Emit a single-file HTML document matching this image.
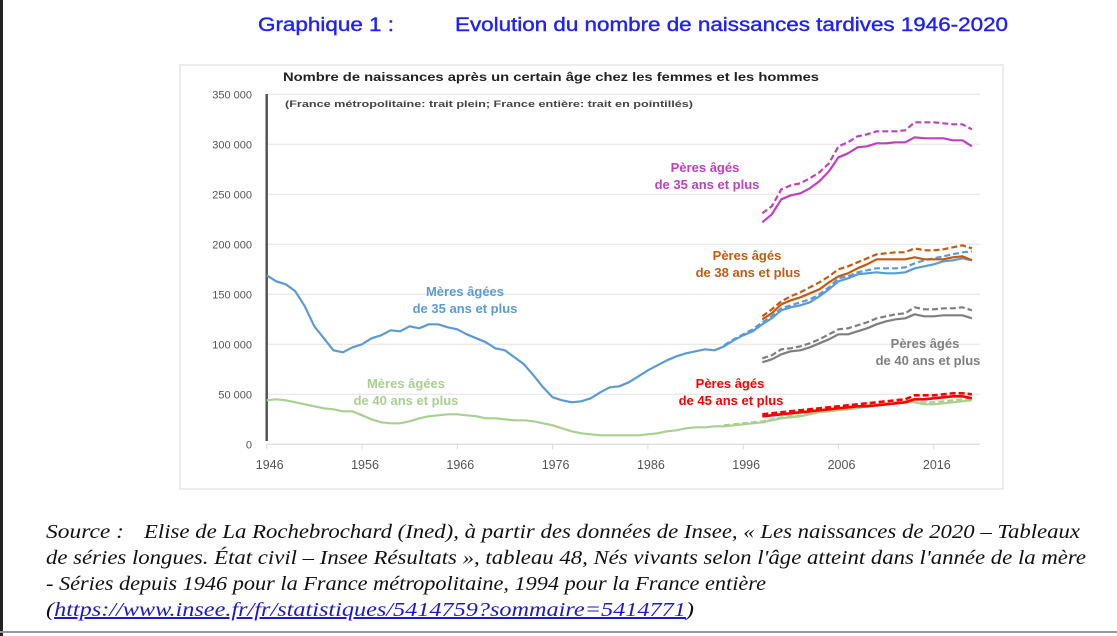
<!DOCTYPE html>
<html><head><meta charset="utf-8"><style>
html,body{margin:0;padding:0;background:#fff;width:1117px;height:636px;overflow:hidden}
svg{display:block}
</style></head><body>
<svg id="chart" width="1117" height="636" viewBox="0 0 1117 636" xmlns="http://www.w3.org/2000/svg">
<rect x="0" y="0" width="3" height="636" fill="#222"/>
<rect x="0" y="631" width="1117" height="2" fill="#999"/>
<g font-family="Liberation Sans, sans-serif" fill="#1f1fff" font-size="19" stroke="#1f1fff" stroke-width="0.4">
<text x="258" y="31" textLength="136" lengthAdjust="spacingAndGlyphs">Graphique 1 :</text>
<text x="455" y="31" textLength="553" lengthAdjust="spacingAndGlyphs">Evolution du nombre de naissances tardives 1946-2020</text>
</g>
<rect x="180" y="65" width="823" height="424" fill="#fff" stroke="#e6e6e6" stroke-width="1.5"/>
<text x="283" y="81" font-family="Liberation Sans, sans-serif" font-weight="bold" font-size="12" fill="#222" textLength="536" lengthAdjust="spacingAndGlyphs">Nombre de naissances après un certain âge chez les femmes et les hommes</text>
<text x="285" y="107" font-family="Liberation Sans, sans-serif" font-weight="bold" font-size="9.5" fill="#444" textLength="408" lengthAdjust="spacingAndGlyphs">(France métropolitaine: trait plein; France entière: trait en pointillés)</text>
<g id="grid"></g>
<g id="axes"></g>
<g id="series"></g>
<g font-family="Liberation Sans, sans-serif" font-weight="bold" font-size="13" text-anchor="middle">
<text x="465" y="296" fill="#5b9bd5">Mères âgées</text>
<text x="465" y="313" fill="#5b9bd5">de 35 ans et plus</text>
<text x="406" y="388" fill="#a9d18e">Mères âgées</text>
<text x="406" y="405" fill="#a9d18e">de 40 ans et plus</text>
<text x="705" y="172" fill="#c040c0">Pères âgés</text>
<text x="707" y="189" fill="#c040c0">de 35 ans et plus</text>
<text x="747" y="260" fill="#c55a11">Pères âgés</text>
<text x="748" y="277" fill="#c55a11">de 38 ans et plus</text>
<text x="925" y="348" fill="#7f7f7f">Pères âgés</text>
<text x="928" y="365" fill="#7f7f7f">de 40 ans et plus</text>
<text x="730" y="388" fill="#ff0000">Pères âgés</text>
<text x="731" y="405" fill="#ff0000">de 45 ans et plus</text>
</g>
<g font-family="Liberation Serif, serif" font-style="italic" font-size="20" fill="#111">
<text x="46" y="538" textLength="78" lengthAdjust="spacingAndGlyphs">Source :</text>
<text x="144" y="538" textLength="936" lengthAdjust="spacingAndGlyphs">Elise de La Rochebrochard (Ined), à partir des données de Insee, « Les naissances de 2020 – Tableaux</text>
<text x="46" y="564" textLength="1040" lengthAdjust="spacingAndGlyphs">de séries longues. État civil – Insee Résultats », tableau 48, Nés vivants selon l'âge atteint dans l'année de la mère</text>
<text x="46" y="590" textLength="720" lengthAdjust="spacingAndGlyphs">- Séries depuis 1946 pour la France métropolitaine, 1994 pour la France entière</text>
<text x="46" y="616" textLength="648" lengthAdjust="spacingAndGlyphs">(<tspan fill="#1a1acc" text-decoration="underline">https://www.insee.fr/fr/statistiques/5414759?sommaire=5414771</tspan>)</text>
</g>
</svg>
<script>
const yTicks = [0,50000,100000,150000,200000,250000,300000,350000];
const yTickLabels = ["0","50 000","100 000","150 000","200 000","250 000","300 000","350 000"];
const xTicks = [1946,1956,1966,1976,1986,1996,2006,2016];
const meres35 = [169,163,160,153,138,118,106,94,92,97,100,106,109,114,113,118,116,120,120,117,115,110,106,102,96,94,87,80,69,57,47,44,42,43,46,52,57,58,62,68,74,79,84,88,91,93,95,94,98,104,109,113,120,126,134,137,139,142,148,155,163,166,170,171,172,171,171,172,176,178,180,183,184,186,184];
const meres40 = [44,45,44,42,40,38,36,35,33,33,29,25,22,21,21,23,26,28,29,30,30,29,28,26,26,25,24,24,23,21,19,16,13,11,10,9,9,9,9,9,10,11,13,14,16,17,17,18,18,19,20,21,22,24,26,27,28,30,32,33,34,35,36,38,39,40,41,42,42,40,40,41,42,43,44];
const meres35Entiere = [99,105,110,115,122,128,136,139,142,145,150,157,166,168,172,174,176,176,176,177,181,184,186,188,190,192,193];
const meres40Entiere = [19,20,21,22,23,25,27,28,29,31,33,34,35,36,37,39,40,41,42,43,42,42,42,43,44,45,46];
const peres35 = [222,230,245,249,251,256,263,273,287,291,297,298,301,301,302,302,307,306,306,306,304,304,298];
const peres35Entiere = [231,238,255,259,261,266,272,281,298,302,308,310,313,313,313,314,322,322,322,321,320,320,315];
const peres38 = [125,131,140,144,147,151,155,162,168,171,176,180,185,185,185,185,187,185,185,185,187,188,184];
const peres38Entiere = [128,135,143,148,152,157,162,168,175,178,182,186,190,191,192,192,196,194,194,195,197,199,196];
const peres40 = [82,85,90,93,94,97,101,105,110,110,113,116,120,123,125,126,130,128,128,129,129,129,126];
const peres40Entiere = [86,89,95,96,98,101,105,110,115,116,119,122,126,128,130,131,137,135,135,136,136,137,134];
const peres45 = [28,29,30,31,32,33,34,35,36,37,38,38,39,40,41,42,45,45,46,47,48,48,46];
const peres45Entiere = [30,31,32,33,34,35,36,37,38,39,40,41,42,43,44,45,49,49,49,50,51,51,50];

const NS="http://www.w3.org/2000/svg";
const X0=266.7, PX_YR=9.53, Y0=444.3, PX_UNIT=0.001;
const xs=y=>X0+(y-1946)*PX_YR;
const ys=v=>Y0-v*PX_UNIT;
function mk(tag,parent){const e=document.createElementNS(NS,tag);parent.appendChild(e);return e;}
const grid=document.getElementById('grid'),axes=document.getElementById('axes'),ser=document.getElementById('series');
yTicks.forEach((t,i)=>{
  const l=mk('line',grid);
  
  
  l.setAttribute('x1',X0);l.setAttribute('x2',980);l.setAttribute('y1',ys(t));l.setAttribute('y2',ys(t));
  l.setAttribute('stroke','#e3e3e3');l.setAttribute('stroke-width','1');
  const tx=mk('text',axes);
  
  
  tx.setAttribute('x',252);tx.setAttribute('y',ys(t)+4);tx.setAttribute('text-anchor','end');
  tx.setAttribute('font-family','Liberation Sans, sans-serif');tx.setAttribute('font-size','11');tx.setAttribute('fill','#555');
  tx.textContent=yTickLabels[i];
});
const ax=mk('line',axes);


ax.setAttribute('x1',X0);ax.setAttribute('x2',X0);ax.setAttribute('y1',94);ax.setAttribute('y2',441);ax.setAttribute('stroke','#555');ax.setAttribute('stroke-width','2.5');
const xa=mk('line',axes);


xa.setAttribute('x1',X0);xa.setAttribute('x2',980);xa.setAttribute('y1',Y0);xa.setAttribute('y2',Y0);xa.setAttribute('stroke','#d9d9d9');xa.setAttribute('stroke-width','1');
xTicks.forEach(t=>{
  const tk=mk('line',axes);
  
  
  tk.setAttribute('x1',xs(t));tk.setAttribute('x2',xs(t));tk.setAttribute('y1',Y0);tk.setAttribute('y2',Y0+5);tk.setAttribute('stroke','#d9d9d9');
  const tx=mk('text',axes);
  
  
  tx.setAttribute('x',xs(t)+3);tx.setAttribute('y',469);tx.setAttribute('text-anchor','middle');
  tx.setAttribute('font-family','Liberation Sans, sans-serif');tx.setAttribute('font-size','12.5');tx.setAttribute('fill','#555');
  tx.textContent=t;
});
function series(vals,start,color,dashed,name,w){
  const p=mk('polyline',ser);
  
  
  p.setAttribute('points',vals.map((v,i)=>xs(start+i).toFixed(1)+','+ys(v*1000).toFixed(1)).join(' '));
  p.setAttribute('fill','none');p.setAttribute('stroke',color);p.setAttribute('stroke-width',w||2.2);
  p.setAttribute('stroke-linejoin','round');
  if(dashed)p.setAttribute('stroke-dasharray','6,3');
}
series(meres40Entiere,1994,'#a9d18e',true,'line-meres-40-entiere');
series(meres40,1946,'#a9d18e',false,'line-meres-40');
series(meres35Entiere,1994,'#5b9bd5',true,'line-meres-35-entiere');
series(meres35,1946,'#5b9bd5',false,'line-meres-35');
series(peres45Entiere,1998,'#ff0000',true,'line-peres-45-entiere',2.6);
series(peres45,1998,'#ff0000',false,'line-peres-45',2.6);
series(peres40Entiere,1998,'#7f7f7f',true,'line-peres-40-entiere');
series(peres40,1998,'#7f7f7f',false,'line-peres-40');
series(peres38Entiere,1998,'#c55a11',true,'line-peres-38-entiere');
series(peres38,1998,'#c55a11',false,'line-peres-38');
series(peres35Entiere,1998,'#c040c0',true,'line-peres-35-entiere');
series(peres35,1998,'#c040c0',false,'line-peres-35');
</script>
</body></html>
